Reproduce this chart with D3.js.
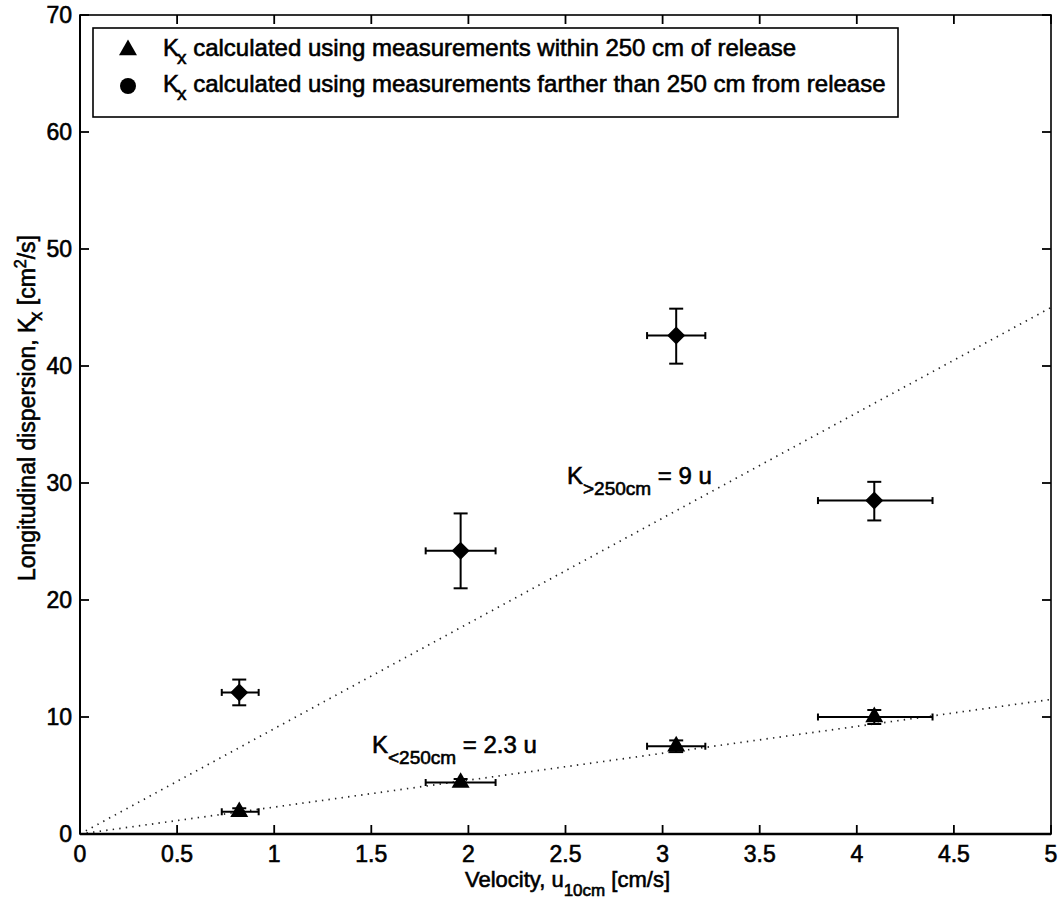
<!DOCTYPE html>
<html>
<head>
<meta charset="utf-8">
<script src="https://cdn.jsdelivr.net/npm/d3@7"></script>
<style>
  body { margin: 0; background: #fff; }
  svg text { font-family: "Liberation Sans", Arial, sans-serif; fill: #000; stroke: #000; stroke-width: 0.6px; }
</style>
</head>
<body>
<svg id="chart" width="1062" height="909"></svg>
<script>
// velocity at 10 cm, with its spread
var velocity = [0.82, 1.96, 3.07, 4.09];
var velocityLo = [0.73, 1.78, 2.92, 3.80];
var velocityHi = [0.92, 2.14, 3.22, 4.39];

// Kx from measurements within 250 cm of release
var kNear = [1.9, 4.4, 7.5, 10.0];
var kNearLo = [1.6, 4.1, 7.0, 9.4];
var kNearHi = [2.2, 4.7, 8.0, 10.6];

// Kx from measurements farther than 250 cm
var kFar = [12.1, 24.2, 42.6, 28.5];
var kFarLo = [11.0, 21.0, 40.2, 26.8];
var kFarHi = [13.2, 27.4, 44.9, 30.1];

// fitted slopes K = a u
var fitSlopes = [9, 2.3];

var xTicks = [0, 0.5, 1, 1.5, 2, 2.5, 3, 3.5, 4, 4.5, 5];
var yTicks = [0, 10, 20, 30, 40, 50, 60, 70];

var legendLabels = [
  "calculated using measurements within 250 cm of release",
  "calculated using measurements farther than 250 cm from release"
];

(function() {
  var svg = d3.select("#chart");

  var left = 80, right = 1051, top = 15, bottom = 834;
  var x = d3.scaleLinear().domain([0, 5]).range([left, right]);
  var y = d3.scaleLinear().domain([0, 70]).range([bottom, top]);

  var TICK = 9;

  // Dotted fit lines
  var fitLine = d3.line()
    .x(function(d) { return x(d[0]); })
    .y(function(d) { return y(d[1]); });
  svg.append("g").selectAll("path").data(fitSlopes).enter()
    .append("path")
    .attr("d", function(a) { return fitLine([[0, 0], [5, 5 * a]]); })
    .attr("fill", "none")
    .attr("stroke", "#222")
    .attr("stroke-width", 1.7)
    .attr("stroke-dasharray", "1.4,5.2");

  // Error bars + markers for one series
  var drawSeries = function(vals, lo, hi, shape) {
    var g = svg.append("g");
    var pts = velocity.map(function(v, i) {
      return { x: v, xl: velocityLo[i], xh: velocityHi[i], y: vals[i], yl: lo[i], yh: hi[i] };
    });
    var eb = g.selectAll("g").data(pts).enter().append("g")
      .attr("stroke", "#000").attr("stroke-width", 2).attr("fill", "none");
    // horizontal bar
    eb.append("line")
      .attr("x1", function(d) { return x(d.xl); })
      .attr("x2", function(d) { return x(d.xh); })
      .attr("y1", function(d) { return y(d.y); })
      .attr("y2", function(d) { return y(d.y); });
    eb.append("line")
      .attr("x1", function(d) { return x(d.xl); })
      .attr("x2", function(d) { return x(d.xl); })
      .attr("y1", function(d) { return y(d.y) - 3.5; })
      .attr("y2", function(d) { return y(d.y) + 3.5; });
    eb.append("line")
      .attr("x1", function(d) { return x(d.xh); })
      .attr("x2", function(d) { return x(d.xh); })
      .attr("y1", function(d) { return y(d.y) - 3.5; })
      .attr("y2", function(d) { return y(d.y) + 3.5; });
    // vertical bar
    eb.append("line")
      .attr("x1", function(d) { return x(d.x); })
      .attr("x2", function(d) { return x(d.x); })
      .attr("y1", function(d) { return y(d.yl); })
      .attr("y2", function(d) { return y(d.yh); });
    eb.append("line")
      .attr("x1", function(d) { return x(d.x) - 7; })
      .attr("x2", function(d) { return x(d.x) + 7; })
      .attr("y1", function(d) { return y(d.yl); })
      .attr("y2", function(d) { return y(d.yl); });
    eb.append("line")
      .attr("x1", function(d) { return x(d.x) - 7; })
      .attr("x2", function(d) { return x(d.x) + 7; })
      .attr("y1", function(d) { return y(d.yh); })
      .attr("y2", function(d) { return y(d.yh); });
    // marker
    eb.append("path")
      .attr("d", shape)
      .attr("fill", "#000")
      .attr("stroke", "none")
      .attr("transform", function(d) {
        return "translate(" + x(d.x) + "," + y(d.y) + ")";
      });
  };

  var triangle = d3.symbol().type(d3.symbolTriangle).size(140)();
  var diamond = "M0,-9L9,0L0,9L-9,0Z";

  drawSeries(kNear, kNearLo, kNearHi, triangle);
  drawSeries(kFar, kFarLo, kFarHi, diamond);

  // Axes box with inward ticks on all four sides
  var axes = svg.append("g").attr("stroke", "#000").attr("fill", "none");
  axes.append("rect")
    .attr("x", left).attr("y", top)
    .attr("width", right - left).attr("height", bottom - top)
    .attr("stroke-width", 1.6);
  axes.append("line")
    .attr("x1", left).attr("x2", right).attr("y1", bottom).attr("y2", bottom)
    .attr("stroke-width", 2.4);
  axes.append("line")
    .attr("x1", left).attr("x2", left).attr("y1", top).attr("y2", bottom)
    .attr("stroke-width", 2);

  var xt = axes.append("g").attr("stroke-width", 1.8).selectAll("g").data(xTicks).enter().append("g");
  xt.append("line")
    .attr("x1", x).attr("x2", x).attr("y1", bottom).attr("y2", bottom - TICK);
  xt.append("line")
    .attr("x1", x).attr("x2", x).attr("y1", top).attr("y2", top + TICK);
  var yt = axes.append("g").attr("stroke-width", 1.8).selectAll("g").data(yTicks).enter().append("g");
  yt.append("line")
    .attr("y1", y).attr("y2", y).attr("x1", left).attr("x2", left + TICK);
  yt.append("line")
    .attr("y1", y).attr("y2", y).attr("x1", right).attr("x2", right - TICK);

  // Tick labels
  svg.append("g").selectAll("text").data(xTicks).enter()
    .append("text")
    .attr("x", x).attr("y", bottom + 28)
    .attr("text-anchor", "middle")
    .attr("font-size", 23)
    .text(function(d) { return d; });
  svg.append("g").selectAll("text").data(yTicks).enter()
    .append("text")
    .attr("x", left - 8).attr("y", function(d) { return y(d) + 8; })
    .attr("text-anchor", "end")
    .attr("font-size", 23)
    .text(function(d) { return d; });

  // X axis title
  var xt1 = svg.append("text")
    .attr("x", (left + right) / 2 + 2).attr("y", 887)
    .attr("text-anchor", "middle")
    .attr("font-size", 22);
  xt1.append("tspan").text("Velocity, u");
  xt1.append("tspan").attr("dy", 9).attr("font-size", 17).text("10cm");
  xt1.append("tspan").attr("dy", -9).text(" [cm/s]");

  // Y axis title
  var yl = svg.append("text")
    .attr("transform", "translate(35,408) rotate(-90)")
    .attr("text-anchor", "middle")
    .attr("font-size", 23);
  yl.append("tspan").text("Longitudinal dispersion, K");
  yl.append("tspan").attr("dy", 7).attr("dx", -3).attr("font-size", 18).text("x");
  yl.append("tspan").attr("dy", -7).text(" [cm");
  yl.append("tspan").attr("dy", -9).attr("font-size", 16).text("2");
  yl.append("tspan").attr("dy", 9).text("/s]");

  // Fit annotations
  var annot = function(tx, ty, sub, rest) {
    var t = svg.append("text").attr("x", tx).attr("y", ty).attr("font-size", 24);
    t.append("tspan").text("K");
    t.append("tspan").attr("dy", 11).attr("font-size", 19).text(sub);
    t.append("tspan").attr("dy", -11).text(rest);
  };
  annot(567, 484, ">250cm", " = 9 u");
  annot(372, 753, "<250cm", " = 2.3 u");

  // Legend
  var lg = svg.append("g");
  lg.append("rect")
    .attr("x", 93).attr("y", 28).attr("width", 805).attr("height", 89)
    .attr("fill", "#fff").attr("stroke", "#000").attr("stroke-width", 1.6);
  var legendShapes = [triangle, "M0,-8A8,8 0 1,1 0,8A8,8 0 1,1 0,-8Z"];
  var rows = lg.selectAll("g").data(legendLabels).enter().append("g")
    .attr("transform", function(d, i) { return "translate(0," + (i * 36) + ")"; });
  rows.append("path")
    .attr("d", function(d, i) { return legendShapes[i]; })
    .attr("transform", "translate(128,50)")
    .attr("fill", "#000");
  var lt = rows.append("text").attr("x", 163).attr("y", 56).attr("font-size", 24);
  lt.append("tspan").text("K");
  lt.append("tspan").attr("dy", 8).attr("dx", -2).attr("font-size", 19).text("x");
  lt.append("tspan").attr("dy", -8).text(function(d) { return " " + d; });
}());
</script>
</body>
</html>
